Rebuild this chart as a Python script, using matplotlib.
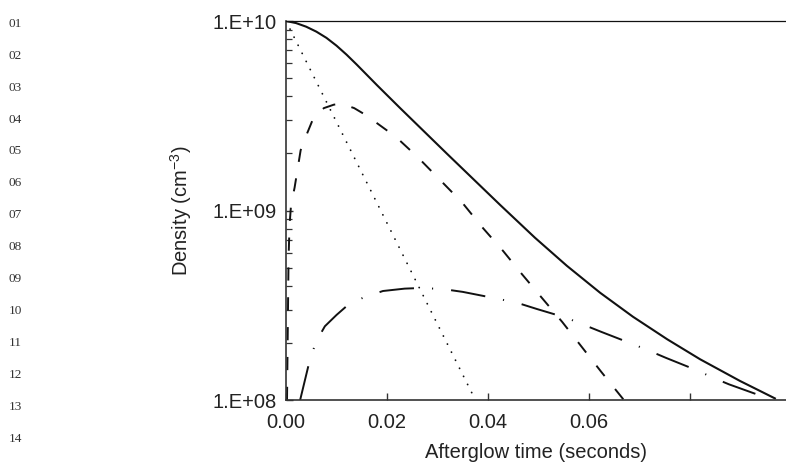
import numpy as np
import matplotlib
matplotlib.use('Agg')
import matplotlib.pyplot as plt
from matplotlib.ticker import LogLocator, NullFormatter

plt.rcParams['font.family'] = ['Liberation Sans', 'DejaVu Sans']
plt.rcParams['mathtext.fontset'] = 'custom'
plt.rcParams['mathtext.rm'] = 'Liberation Sans'
plt.rcParams['mathtext.it'] = 'Liberation Sans:italic'
plt.rcParams['mathtext.default'] = 'regular'
plt.rcParams['lines.scale_dashes'] = False

# curva continua (total)
t_solid = [0, 0.002, 0.004, 0.006, 0.008, 0.010, 0.012, 0.014, 0.016, 0.018,
           0.0226, 0.0319, 0.0424, 0.0493, 0.0556, 0.0622, 0.0687, 0.0755,
           0.082, 0.0899, 0.0968]
n_solid = [1.0e10, 9.75e9, 9.33e9, 8.79e9, 8.15e9, 7.41e9, 6.64e9, 5.89e9,
           5.20e9, 4.59e9, 3.47e9, 1.99e9, 1.07e9, 7.18e8, 5.11e8, 3.68e8,
           2.75e8, 2.09e8, 1.64e8, 1.26e8, 1.02e8]

# curva a trazos
t_dash = [0.0002, 0.00035, 0.0005, 0.0007, 0.001, 0.0017, 0.0029, 0.0042,
          0.0055, 0.0075, 0.0095, 0.0111, 0.0135, 0.0158, 0.0218, 0.0261,
          0.0305, 0.0349, 0.0388, 0.0430, 0.0467, 0.0507, 0.0547, 0.0586,
          0.0624, 0.0669]
n_dash = [1.0e8, 2.34e8, 5.48e8, 8.37e8, 1.07e9, 1.32e9, 2.08e9, 2.56e9,
          3.11e9, 3.47e9, 3.62e9, 3.65e9, 3.47e9, 3.19e9, 2.44e9, 1.91e9,
          1.45e9, 1.10e9, 8.19e8, 6.11e8, 4.62e8, 3.45e8, 2.58e8, 1.90e8,
          1.41e8, 1.0e8]

# curva punteada
t_dot = [0, 0.01, 0.02, 0.03, 0.0375]
n_dot = [1.0e10, 2.93e9, 8.58e8, 2.51e8, 1.0e8]

# curva trazo-punto
t_dashdot = [0.0028, 0.0046, 0.0059, 0.0077, 0.0100, 0.0123, 0.0154, 0.0192,
             0.0235, 0.0267, 0.0311, 0.035, 0.0422, 0.0459, 0.0497, 0.0556,
             0.059, 0.0624, 0.0685, 0.0719, 0.0752, 0.0812, 0.0846, 0.0877,
             0.0937, 0.095]
n_dashdot = [1.0e8, 1.58e8, 2.02e8, 2.45e8, 2.81e8, 3.18e8, 3.48e8, 3.76e8,
             3.87e8, 3.90e8, 3.85e8, 3.72e8, 3.41e8, 3.25e8, 3.02e8, 2.71e8,
             2.49e8, 2.29e8, 1.98e8, 1.82e8, 1.67e8, 1.44e8, 1.31e8, 1.21e8,
             1.06e8, 1.0e8]

x_ticks = [0, 0.02, 0.04, 0.06, 0.08]
x_labels = ['0.00', '0.02', '0.04', '0.06', '']
y_ticks = [1e8, 1e9, 1e10]
y_labels = ['1.E+08', '1.E+09', '1.E+10']
line_numbers = ['%02d' % i for i in range(1, 15)]

fig = plt.figure(figsize=(7.86, 4.65), dpi=100)
ax = fig.add_axes([286/786, 1 - 400/465, 500/786, 379/465])

ax.semilogy(t_solid, n_solid, color='#111111', lw=1.5)
ax.semilogy(t_dash, n_dash, color='#111111', lw=1.4, linestyle=(0, (9.5, 12)))
ax.semilogy(t_dot, n_dot, color='#111111', lw=1.3, linestyle=(0, (0.1, 6.4)),
            dash_capstyle='round')
ax.semilogy(t_dashdot, n_dashdot, color='#111111', lw=1.4,
            linestyle=(0, (25, 13, 0.8, 13)))

ax.set_xlim(0, 0.099)
ax.set_ylim(1e8, 1e10)
ax.set_xticks(x_ticks)
ax.set_xticklabels(x_labels)
ax.set_yticks(y_ticks)
ax.set_yticklabels(y_labels)
ax.yaxis.set_minor_locator(LogLocator(base=10, subs=np.arange(2, 10)))
ax.yaxis.set_minor_formatter(NullFormatter())

ax.tick_params(which='major', direction='in', length=5, width=1,
               color='#333333', labelsize=14.5, labelcolor='#222222')
ax.tick_params(axis='y', which='major', pad=7)
ax.tick_params(axis='x', which='major', pad=9)
ax.tick_params(which='minor', direction='in', length=4, width=0.9,
               color='#333333')
ax.spines['right'].set_visible(False)
ax.spines['top'].set_linewidth(0.9)
ax.spines['top'].set_color('#111111')
for s in ['left', 'bottom']:
    ax.spines[s].set_linewidth(1.2)
    ax.spines[s].set_color('#333333')

ax.set_xlabel('Afterglow time (seconds)', fontsize=14.5, labelpad=8, color='#222222')
ax.set_ylabel('Density (cm$^{-3}$)', fontsize=14.5, labelpad=13, color='#222222')

for i, lab in enumerate(line_numbers):
    fig.text(15/786, 1 - (23.7 + 31.95*i)/465, lab, ha='center', va='center',
             family='Liberation Serif', fontsize=9.5, color='#333333')

fig.savefig('out.png', dpi=100)
